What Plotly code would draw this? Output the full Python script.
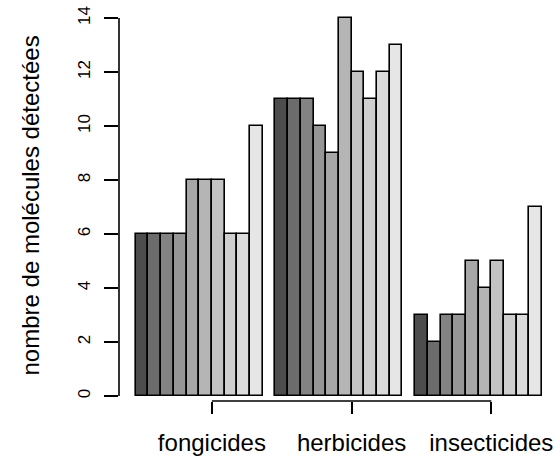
import plotly.graph_objects as go

categories = ["fongicides", "herbicides", "insecticides"]
# 10 series per category (one per grey shade)
series_values = [
    [6, 11, 3],
    [6, 11, 2],
    [6, 11, 3],
    [6, 10, 3],
    [8, 9, 5],
    [8, 14, 4],
    [8, 12, 5],
    [6, 11, 3],
    [6, 12, 3],
    [10, 13, 7],
]
colors = ["#4D4D4D", "#6C6C6C", "#838383", "#969696", "#A7A7A7",
          "#B5B5B5", "#C3C3C3", "#CFCFCF", "#DBDBDB", "#E6E6E6"]
y_ticks = [0, 2, 4, 6, 8, 10, 12, 14]
y_title = "nombre de molécules détectées"

n_series = len(series_values)
group_step = n_series + 1  # one bar of space between groups

fig = go.Figure()
for i, vals in enumerate(series_values):
    xs = [1.5 + g * group_step + i for g in range(len(categories))]
    fig.add_trace(go.Bar(
        x=xs, y=vals, width=1,
        marker=dict(color=colors[i], line=dict(color="black", width=1.6)),
        showlegend=False, hoverinfo="y",
    ))

tick_pos = [1 + n_series / 2 + g * group_step + 1 for g in range(len(categories))]

font_family = "Liberation Sans, Arial, sans-serif"
fig.update_layout(
    width=555, height=458,
    margin=dict(l=119, r=0, t=10, b=57),
    paper_bgcolor="white", plot_bgcolor="white",
    bargap=0, barmode="overlay",
    font=dict(family=font_family, color="black"),
    xaxis=dict(
        range=[-0.315, 34.016], showgrid=False, zeroline=False, showline=False,
        tickmode="array", tickvals=tick_pos, ticktext=categories,
        ticks="outside", ticklen=12, tickwidth=1.6, tickcolor="black",
        tickfont=dict(size=24, family=font_family, color="black"),
        ticklabelstandoff=8,
    ),
    yaxis=dict(
        range=[-0.185, 14.296], showgrid=False, zeroline=False, showline=False,
        tickmode="array", tickvals=y_ticks, ticktext=[str(v) for v in y_ticks],
        ticks="outside", ticklen=14, tickwidth=1.6, tickcolor="black",
        tickangle=-90,
        tickfont=dict(size=17, family=font_family, color="black"),
        ticklabelstandoff=7,
    ),
    shapes=[
        dict(type="line", xref="paper", yref="y", x0=0, x1=0,
             y0=y_ticks[0], y1=y_ticks[-1], line=dict(color="black", width=1.6)),
        dict(type="line", xref="x", yref="paper", x0=tick_pos[0], x1=tick_pos[-1],
             y0=0, y1=0, line=dict(color="black", width=1.6)),
    ],
    annotations=[
        dict(text=y_title, xref="paper", yref="paper",
             x=(30 - 119) / 436, y=0.5, xanchor="center", yanchor="middle",
             textangle=-90, showarrow=False,
             font=dict(size=24, family=font_family, color="black")),
    ],
)

fig.write_html("out.html")
